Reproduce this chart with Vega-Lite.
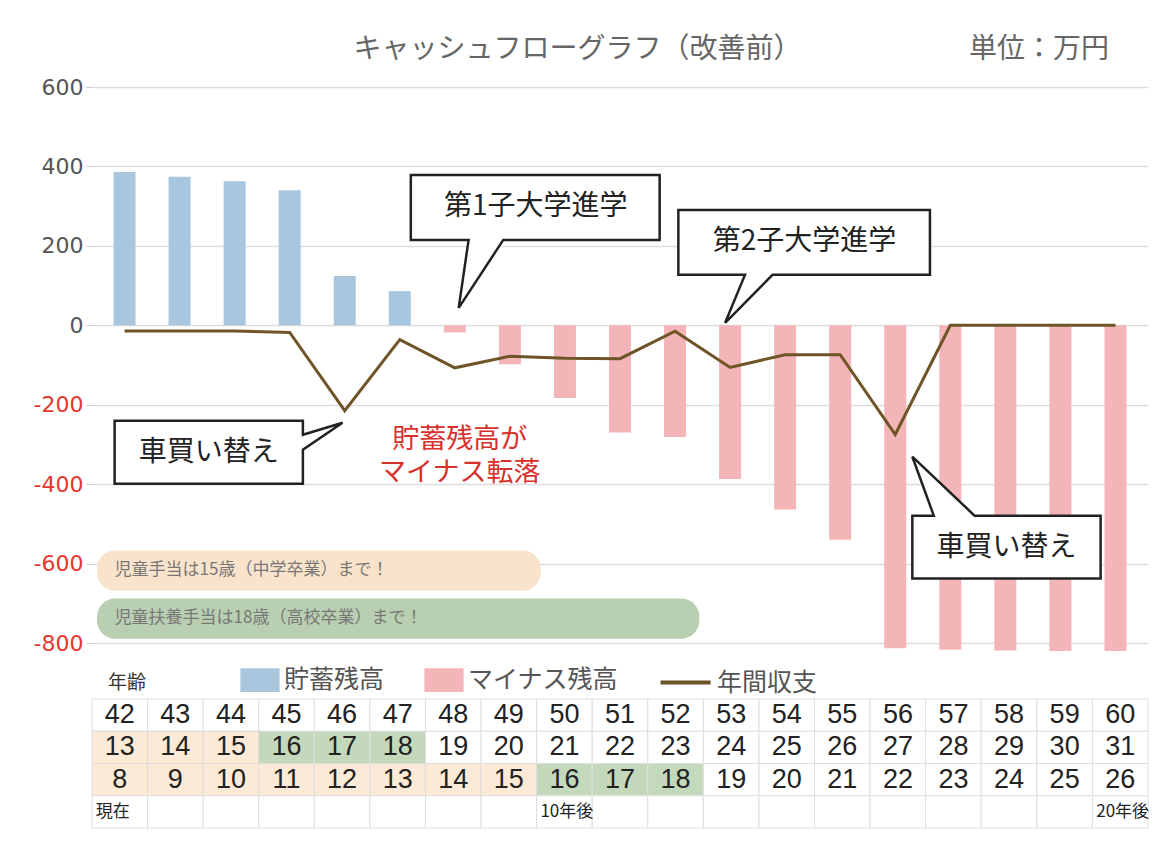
{
  "$schema": "https://vega.github.io/schema/vega-lite/v6.json",
  "background": "white",
  "padding": {"left": 5, "top": 36, "right": 0, "bottom": 0},
  "config": {"view": {"stroke": null}, "font": "Noto Sans CJK JP"},
  "resolve": {"scale": {"x": "independent", "y": "independent", "color": "independent"}, "legend": {"color": "independent"}},
  "spacing": 0,
  "datasets": {
    "cf": [
      {"age": 42, "balance": 386, "cash": -14, "kind": "貯蓄残高"},
      {"age": 43, "balance": 374, "cash": -14, "kind": "貯蓄残高"},
      {"age": 44, "balance": 363, "cash": -14, "kind": "貯蓄残高"},
      {"age": 45, "balance": 340, "cash": -18, "kind": "貯蓄残高"},
      {"age": 46, "balance": 124, "cash": -215, "kind": "貯蓄残高"},
      {"age": 47, "balance": 86, "cash": -36, "kind": "貯蓄残高"},
      {"age": 48, "balance": -18, "cash": -107, "kind": "マイナス残高"},
      {"age": 49, "balance": -98, "cash": -78, "kind": "マイナス残高"},
      {"age": 50, "balance": -183, "cash": -83, "kind": "マイナス残高"},
      {"age": 51, "balance": -270, "cash": -84, "kind": "マイナス残高"},
      {"age": 52, "balance": -281, "cash": -15, "kind": "マイナス残高"},
      {"age": 53, "balance": -387, "cash": -106, "kind": "マイナス残高"},
      {"age": 54, "balance": -464, "cash": -74, "kind": "マイナス残高"},
      {"age": 55, "balance": -540, "cash": -74, "kind": "マイナス残高"},
      {"age": 56, "balance": -813, "cash": -275, "kind": "マイナス残高"},
      {"age": 57, "balance": -817, "cash": 0, "kind": "マイナス残高"},
      {"age": 58, "balance": -819, "cash": 0, "kind": "マイナス残高"},
      {"age": 59, "balance": -820, "cash": 0, "kind": "マイナス残高"},
      {"age": 60, "balance": -820, "cash": 0, "kind": "マイナス残高"}
    ],
    "callouts": [
      {"id": "c1", "i": 1, "x": 47.20, "y": 378.6},
      {"id": "c1", "i": 2, "x": 51.72, "y": 378.6},
      {"id": "c1", "i": 3, "x": 51.72, "y": 215.1},
      {"id": "c1", "i": 4, "x": 48.88, "y": 215.1},
      {"id": "c1", "i": 5, "x": 48.07, "y": 44.0},
      {"id": "c1", "i": 6, "x": 48.25, "y": 215.1},
      {"id": "c1", "i": 7, "x": 47.20, "y": 215.1},
      {"id": "c2", "i": 1, "x": 52.06, "y": 290.6},
      {"id": "c2", "i": 2, "x": 56.63, "y": 290.6},
      {"id": "c2", "i": 3, "x": 56.63, "y": 127.0},
      {"id": "c2", "i": 4, "x": 53.77, "y": 127.0},
      {"id": "c2", "i": 5, "x": 52.91, "y": 6.3},
      {"id": "c2", "i": 6, "x": 53.27, "y": 127.0},
      {"id": "c2", "i": 7, "x": 52.06, "y": 127.0},
      {"id": "c3", "i": 1, "x": 41.82, "y": -240.3},
      {"id": "c3", "i": 2, "x": 45.24, "y": -240.3},
      {"id": "c3", "i": 3, "x": 45.24, "y": -275.5},
      {"id": "c3", "i": 4, "x": 45.96, "y": -245.3},
      {"id": "c3", "i": 5, "x": 45.24, "y": -313.2},
      {"id": "c3", "i": 6, "x": 45.24, "y": -398.7},
      {"id": "c3", "i": 7, "x": 41.82, "y": -398.7},
      {"id": "c4", "i": 1, "x": 56.31, "y": -479.2},
      {"id": "c4", "i": 2, "x": 56.70, "y": -479.2},
      {"id": "c4", "i": 3, "x": 56.31, "y": -330.8},
      {"id": "c4", "i": 4, "x": 57.44, "y": -479.2},
      {"id": "c4", "i": 5, "x": 59.73, "y": -479.2},
      {"id": "c4", "i": 6, "x": 59.73, "y": -637.7},
      {"id": "c4", "i": 7, "x": 56.31, "y": -637.7}
    ],
    "calloutText": [
      {"x": 49.47, "y": 298, "text": "第1子大学進学"},
      {"x": 54.35, "y": 210, "text": "第2子大学進学"},
      {"x": 43.53, "y": -321, "text": "車買い替え"},
      {"x": 58.02, "y": -560, "text": "車買い替え"}
    ],
    "redText": [
      {"x": 48.09, "y": -288, "text": ["貯蓄残高が", "マイナス転落"]}
    ],
    "headText": [
      {"x": 50.23, "text": "キャッシュフローグラフ（改善前）"},
      {"x": 58.61, "text": "単位：万円"}
    ],
    "table": [
      {"age": 42, "row": "本人", "text": "42", "allow": "なし"},
      {"age": 43, "row": "本人", "text": "43", "allow": "なし"},
      {"age": 44, "row": "本人", "text": "44", "allow": "なし"},
      {"age": 45, "row": "本人", "text": "45", "allow": "なし"},
      {"age": 46, "row": "本人", "text": "46", "allow": "なし"},
      {"age": 47, "row": "本人", "text": "47", "allow": "なし"},
      {"age": 48, "row": "本人", "text": "48", "allow": "なし"},
      {"age": 49, "row": "本人", "text": "49", "allow": "なし"},
      {"age": 50, "row": "本人", "text": "50", "allow": "なし"},
      {"age": 51, "row": "本人", "text": "51", "allow": "なし"},
      {"age": 52, "row": "本人", "text": "52", "allow": "なし"},
      {"age": 53, "row": "本人", "text": "53", "allow": "なし"},
      {"age": 54, "row": "本人", "text": "54", "allow": "なし"},
      {"age": 55, "row": "本人", "text": "55", "allow": "なし"},
      {"age": 56, "row": "本人", "text": "56", "allow": "なし"},
      {"age": 57, "row": "本人", "text": "57", "allow": "なし"},
      {"age": 58, "row": "本人", "text": "58", "allow": "なし"},
      {"age": 59, "row": "本人", "text": "59", "allow": "なし"},
      {"age": 60, "row": "本人", "text": "60", "allow": "なし"},
      {"age": 42, "row": "第1子", "text": "13", "allow": "児童手当"},
      {"age": 43, "row": "第1子", "text": "14", "allow": "児童手当"},
      {"age": 44, "row": "第1子", "text": "15", "allow": "児童手当"},
      {"age": 45, "row": "第1子", "text": "16", "allow": "児童扶養手当"},
      {"age": 46, "row": "第1子", "text": "17", "allow": "児童扶養手当"},
      {"age": 47, "row": "第1子", "text": "18", "allow": "児童扶養手当"},
      {"age": 48, "row": "第1子", "text": "19", "allow": "なし"},
      {"age": 49, "row": "第1子", "text": "20", "allow": "なし"},
      {"age": 50, "row": "第1子", "text": "21", "allow": "なし"},
      {"age": 51, "row": "第1子", "text": "22", "allow": "なし"},
      {"age": 52, "row": "第1子", "text": "23", "allow": "なし"},
      {"age": 53, "row": "第1子", "text": "24", "allow": "なし"},
      {"age": 54, "row": "第1子", "text": "25", "allow": "なし"},
      {"age": 55, "row": "第1子", "text": "26", "allow": "なし"},
      {"age": 56, "row": "第1子", "text": "27", "allow": "なし"},
      {"age": 57, "row": "第1子", "text": "28", "allow": "なし"},
      {"age": 58, "row": "第1子", "text": "29", "allow": "なし"},
      {"age": 59, "row": "第1子", "text": "30", "allow": "なし"},
      {"age": 60, "row": "第1子", "text": "31", "allow": "なし"},
      {"age": 42, "row": "第2子", "text": "8", "allow": "児童手当"},
      {"age": 43, "row": "第2子", "text": "9", "allow": "児童手当"},
      {"age": 44, "row": "第2子", "text": "10", "allow": "児童手当"},
      {"age": 45, "row": "第2子", "text": "11", "allow": "児童手当"},
      {"age": 46, "row": "第2子", "text": "12", "allow": "児童手当"},
      {"age": 47, "row": "第2子", "text": "13", "allow": "児童手当"},
      {"age": 48, "row": "第2子", "text": "14", "allow": "児童手当"},
      {"age": 49, "row": "第2子", "text": "15", "allow": "児童手当"},
      {"age": 50, "row": "第2子", "text": "16", "allow": "児童扶養手当"},
      {"age": 51, "row": "第2子", "text": "17", "allow": "児童扶養手当"},
      {"age": 52, "row": "第2子", "text": "18", "allow": "児童扶養手当"},
      {"age": 53, "row": "第2子", "text": "19", "allow": "なし"},
      {"age": 54, "row": "第2子", "text": "20", "allow": "なし"},
      {"age": 55, "row": "第2子", "text": "21", "allow": "なし"},
      {"age": 56, "row": "第2子", "text": "22", "allow": "なし"},
      {"age": 57, "row": "第2子", "text": "23", "allow": "なし"},
      {"age": 58, "row": "第2子", "text": "24", "allow": "なし"},
      {"age": 59, "row": "第2子", "text": "25", "allow": "なし"},
      {"age": 60, "row": "第2子", "text": "26", "allow": "なし"},
      {"age": 42, "row": "備考", "text": "現在", "allow": "なし"},
      {"age": 43, "row": "備考", "text": "", "allow": "なし"},
      {"age": 44, "row": "備考", "text": "", "allow": "なし"},
      {"age": 45, "row": "備考", "text": "", "allow": "なし"},
      {"age": 46, "row": "備考", "text": "", "allow": "なし"},
      {"age": 47, "row": "備考", "text": "", "allow": "なし"},
      {"age": 48, "row": "備考", "text": "", "allow": "なし"},
      {"age": 49, "row": "備考", "text": "", "allow": "なし"},
      {"age": 50, "row": "備考", "text": "10年後", "allow": "なし"},
      {"age": 51, "row": "備考", "text": "", "allow": "なし"},
      {"age": 52, "row": "備考", "text": "", "allow": "なし"},
      {"age": 53, "row": "備考", "text": "", "allow": "なし"},
      {"age": 54, "row": "備考", "text": "", "allow": "なし"},
      {"age": 55, "row": "備考", "text": "", "allow": "なし"},
      {"age": 56, "row": "備考", "text": "", "allow": "なし"},
      {"age": 57, "row": "備考", "text": "", "allow": "なし"},
      {"age": 58, "row": "備考", "text": "", "allow": "なし"},
      {"age": 59, "row": "備考", "text": "", "allow": "なし"},
      {"age": 60, "row": "備考", "text": "20年後", "allow": "なし"}
    ]
  },
  "vconcat": [
    {
      "width": 1056,
      "height": 566,
      "encoding": {
        "x": {"type": "quantitative", "scale": {"domain": [41.5, 60.5], "nice": false, "zero": false}, "axis": null},
        "y": {"type": "quantitative", "scale": {"domain": [-825, 600], "nice": false, "zero": false},
          "axis": {"title": null, "values": [-800, -600, -400, -200, 0, 200, 400, 600], "labelExpr": "toString(datum.value)", "domain": false, "tickColor": "#cccccc", "tickSize": 6, "labelPadding": 3, "labelFont": "DejaVu Sans", "labelFontSize": 22, "labelColor": {"condition": {"test": "datum.value < 0", "value": "#e5372f"}, "value": "#555555"}, "gridColor": "#dddddd", "gridWidth": 1.5, "minExtent": 87}}
      },
      "layer": [
        {
          "data": {"values": [{"x": 41.5, "x2": 49.56, "y": -567, "y2": -668}]},
          "mark": {"type": "rect", "fill": "#f9e4cb", "cornerRadius": 18},
          "encoding": {"x": {"field": "x"}, "x2": {"field": "x2"}, "y": {"field": "y"}, "y2": {"field": "y2"}}
        },
        {
          "data": {"values": [{"x": 41.5, "x2": 52.44, "y": -688, "y2": -789}]},
          "mark": {"type": "rect", "fill": "#b9cfb1", "cornerRadius": 18},
          "encoding": {"x": {"field": "x"}, "x2": {"field": "x2"}, "y": {"field": "y"}, "y2": {"field": "y2"}}
        },
        {
          "data": {"values": [{"x": 41.82, "y": -617, "text": "児童手当は15歳（中学卒業）まで！"}, {"x": 41.82, "y": -738, "text": "児童扶養手当は18歳（高校卒業）まで！"}]},
          "mark": {"type": "text", "align": "left", "baseline": "middle", "fontSize": 17, "color": "#777777"},
          "encoding": {"x": {"field": "x"}, "y": {"field": "y"}, "text": {"field": "text"}}
        },
        {
          "data": {"name": "cf"},
          "mark": {"type": "bar", "width": 22, "orient": "vertical"},
          "encoding": {
            "x": {"field": "age"},
            "y": {"field": "balance"},
            "color": {"field": "kind", "type": "nominal",
              "scale": {"domain": ["貯蓄残高", "マイナス残高", "年間収支"], "range": ["#a8c6dd", "#f4b5b8", "#6e5427"]},
              "legend": {
                "title": null, "orient": "none", "legendX": 155, "legendY": 580, "direction": "horizontal",
                "padding": 0, "labelFontSize": 25, "labelColor": "#555555", "labelFont": "Noto Sans CJK JP",
                "labelOffset": 11, "columnPadding": 33, "symbolSize": 484, "labelLimit": 400,
                "encode": {"symbols": {"update": {
                  "shape": {"signal": "datum.value === '年間収支' ? 'M-2.95,0H1.6' : 'M-1.6,-0.9H1.6V0.9H-1.6Z'"},
                  "fill": {"signal": "datum.value === '貯蓄残高' ? '#b9d7e5' : datum.value === 'マイナス残高' ? '#f5b4b6' : 'transparent'"},
                  "stroke": {"signal": "datum.value === '年間収支' ? '#7b5a26' : 'transparent'"},
                  "strokeWidth": {"value": 4},
                  "size": {"value": 484},
                  "opacity": {"value": 1}
                }}}
              }
            }
          }
        },
        {
          "data": {"name": "cf"},
          "mark": {"type": "line", "strokeWidth": 3, "strokeJoin": "miter"},
          "encoding": {
            "x": {"field": "age"},
            "y": {"field": "cash"},
            "color": {"datum": "年間収支", "type": "nominal"}
          }
        },
        {
          "data": {"name": "redText"},
          "mark": {"type": "text", "fontSize": 27, "lineHeight": 33, "color": "#d8302a", "baseline": "middle"},
          "encoding": {"x": {"field": "x"}, "y": {"field": "y"}, "text": {"field": "text"}}
        },
        {
          "data": {"name": "callouts"},
          "mark": {"type": "line", "interpolate": "linear-closed", "fill": "white", "stroke": "#222222", "strokeWidth": 2.5, "strokeJoin": "miter"},
          "encoding": {"x": {"field": "x"}, "y": {"field": "y"}, "detail": {"field": "id"}, "order": {"field": "i"}}
        },
        {
          "data": {"name": "calloutText"},
          "mark": {"type": "text", "fontSize": 28, "color": "#222222", "baseline": "middle"},
          "encoding": {"x": {"field": "x"}, "y": {"field": "y"}, "text": {"field": "text"}}
        },
        {
          "data": {"name": "headText"},
          "mark": {"type": "text", "fontSize": 28, "color": "#666666", "baseline": "middle", "dy": -37},
          "encoding": {"x": {"field": "x"}, "y": {"datum": 600}, "text": {"field": "text"}}
        },
        {
          "data": {"values": [{"t": "年齢"}]},
          "mark": {"type": "text", "fontSize": 19, "color": "#333333", "baseline": "middle", "align": "left", "dx": 11, "dy": 30},
          "encoding": {"x": {"datum": 41.5}, "y": {"datum": -825}, "text": {"field": "t"}}
        }
      ]
    },
    {
      "width": 1056,
      "height": 129,
      "data": {"name": "table"},
      "encoding": {
        "x": {"field": "age", "type": "ordinal", "axis": null, "scale": {"paddingInner": 0, "paddingOuter": 0}},
        "y": {"field": "row", "type": "nominal", "axis": null, "sort": ["本人", "第1子", "第2子", "備考"], "scale": {"paddingInner": 0, "paddingOuter": 0}}
      },
      "layer": [
        {
          "mark": {"type": "rect", "stroke": "#dedede", "strokeWidth": 1},
          "encoding": {
            "color": {"field": "allow", "type": "nominal", "legend": null, "scale": {"domain": ["児童手当", "児童扶養手当", "なし"], "range": ["#fcead6", "#c4d9bc", "#ffffff"]}}
          }
        },
        {
          "transform": [{"filter": "datum.row !== '備考'"}],
          "mark": {"type": "text", "font": "Liberation Sans", "fontSize": 27, "color": "#222222", "baseline": "middle"},
          "encoding": {"text": {"field": "text"}}
        },
        {
          "transform": [{"filter": "datum.row === '備考'"}],
          "mark": {"type": "text", "fontSize": 17, "color": "#222222", "align": "left", "dx": -24, "baseline": "middle"},
          "encoding": {"text": {"field": "text"}}
        }
      ]
    }
  ]
}
